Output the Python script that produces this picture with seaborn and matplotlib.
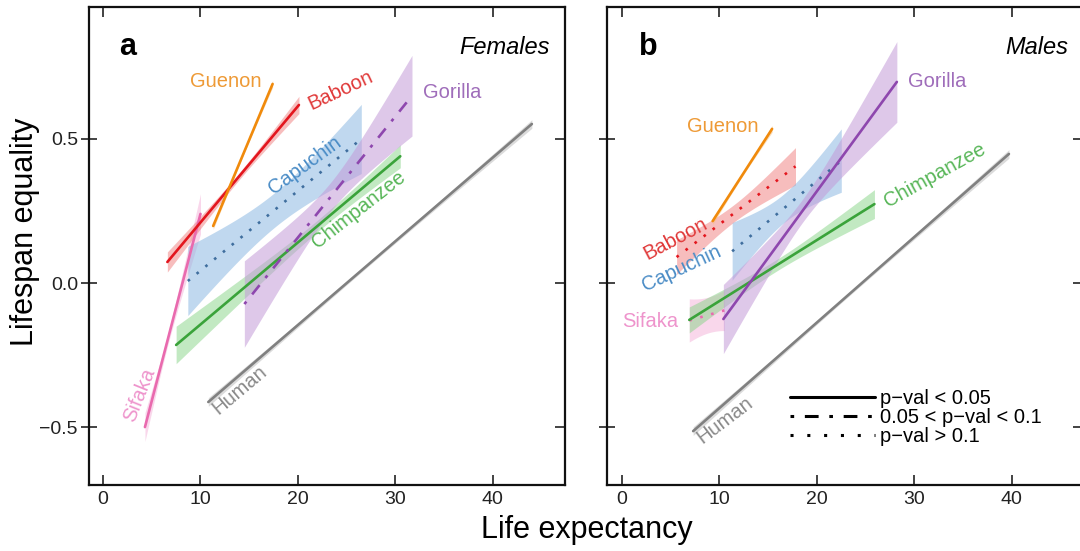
import numpy as np
import pandas as pd
import matplotlib
matplotlib.use("Agg")
import matplotlib.pyplot as plt
import matplotlib.markers as mmarkers
import seaborn as sns
from matplotlib.lines import Line2D

# ---------------- data ----------------
species = ["Sifaka", "Baboon", "Guenon", "Capuchin", "Chimpanzee", "Gorilla", "Human"]

# Females: regression line end points and CI half-widths (start, end, narrowest)
f_x0 = [4.3, 6.6, 11.3, 8.7, 7.5, 14.5, 10.8]
f_x1 = [10.0, 20.1, 17.4, 26.5, 30.5, 31.7, 44.0]
f_y0 = [-0.50, 0.073, 0.198, 0.007, -0.215, -0.073, -0.413]
f_y1 = [0.24, 0.618, 0.691, 0.50, 0.44, 0.65, 0.552]
f_hw0 = [0.05, 0.035, 0.012, 0.12, 0.065, 0.15, 0.015]
f_hw1 = [0.07, 0.03, 0.012, 0.12, 0.04, 0.14, 0.015]
f_hwm = [0.02, 0.012, 0.005, 0.06, 0.02, 0.05, 0.006]
f_sig = ["p<0.05", "p<0.05", "p<0.05", "p>0.1", "p<0.05", "0.05<p<0.1", "p<0.05"]

# Males
m_x0 = [6.9, 5.6, 9.3, 11.3, 6.9, 10.4, 7.3]
m_x1 = [10.5, 17.8, 15.4, 22.5, 25.9, 28.2, 39.7]
m_y0 = [-0.13, 0.09, 0.215, 0.11, -0.128, -0.125, -0.514]
m_y1 = [-0.095, 0.405, 0.535, 0.425, 0.274, 0.698, 0.448]
m_hw0 = [0.075, 0.06, 0.012, 0.10, 0.045, 0.12, 0.015]
m_hw1 = [0.07, 0.065, 0.012, 0.11, 0.05, 0.14, 0.015]
m_hwm = [0.062, 0.03, 0.005, 0.05, 0.02, 0.04, 0.006]
m_sig = ["p>0.1", "p>0.1", "p<0.05", "p>0.1", "p<0.05", "p<0.05", "p<0.05"]

x_ticks = [0, 10, 20, 30, 40]
y_ticks = [-0.5, 0.0, 0.5]
legend_labels = ["p\u2212val < 0.05", "0.05 < p\u2212val < 0.1", "p\u2212val > 0.1"]

# ---------------- styles ----------------
line_colors = {"Sifaka": "#E96AAE", "Baboon": "#E3161E", "Guenon": "#F08A0C",
               "Capuchin": "#3F6E9E", "Chimpanzee": "#3AA33A", "Gorilla": "#8E47AE",
               "Human": "#808080"}
band_colors = {"Sifaka": "#F2A8D4", "Baboon": "#F07C7C", "Guenon": "#F7BE78",
               "Capuchin": "#8DB9E2", "Chimpanzee": "#86D486", "Gorilla": "#C39BD8",
               "Human": "#9A9A9A"}
band_alpha = {"Sifaka": 0.45, "Baboon": 0.5, "Guenon": 0.5, "Capuchin": 0.55,
              "Chimpanzee": 0.5, "Gorilla": 0.55, "Human": 0.35}
label_colors = {"Sifaka": "#EE94CC", "Baboon": "#E03838", "Guenon": "#EE9A36",
                "Capuchin": "#4A8CC6", "Chimpanzee": "#58B658", "Gorilla": "#9F6DBA",
                "Human": "#8A8A8A"}
dash_map = {"p<0.05": "", "0.05<p<0.1": (1.2, 3.5, 4.5, 3.5), "p>0.1": (1, 3.3)}

sns.set_style("white")
plt.rcParams['font.family'] = ['Liberation Sans', 'DejaVu Sans']
plt.rcParams['text.color'] = 'black'
plt.rcParams['axes.labelcolor'] = 'black'

W, H = 1080, 551
fig = plt.figure(figsize=(W / 100, H / 100), dpi=100)
axL = fig.add_axes([89 / W, 66 / H, 476 / W, 478 / H])
axR = fig.add_axes([607 / W, 66 / H, 476 / W, 478 / H])


def half_width(xs, x0, x1, h0, h1, hm):
    a0 = max(h0 ** 2 - hm ** 2, 1e-9)
    a1 = max(h1 ** 2 - hm ** 2, 1e-9)
    r = np.sqrt(a0 / a1)
    c = (x0 + r * x1) / (1 + r)
    s = a0 / (c - x0) ** 2
    return np.sqrt(hm ** 2 + s * (xs - c) ** 2)


def draw_panel(ax, x0, x1, y0, y1, hw0, hw1, hwm, sig):
    rows = []
    for i, sp in enumerate(species):
        xs = np.linspace(x0[i], x1[i], 80)
        ys = y0[i] + (y1[i] - y0[i]) * (xs - x0[i]) / (x1[i] - x0[i])
        hw = half_width(xs, x0[i], x1[i], hw0[i], hw1[i], hwm[i])
        ax.fill_between(xs, ys - hw, ys + hw, color=band_colors[sp],
                        alpha=band_alpha[sp], linewidth=0, zorder=1)
        rows.append({"species": sp, "sig": sig[i], "x": x0[i], "y": y0[i]})
        rows.append({"species": sp, "sig": sig[i], "x": x1[i], "y": y1[i]})
    df = pd.DataFrame(rows)
    sns.lineplot(data=df, x="x", y="y", hue="species", style="sig",
                 units="species", estimator=None, sort=False,
                 palette=line_colors, dashes=dash_map, linewidth=1.9,
                 legend=False, ax=ax, zorder=3)


draw_panel(axL, f_x0, f_x1, f_y0, f_y1, f_hw0, f_hw1, f_hwm, f_sig)
draw_panel(axR, m_x0, m_x1, m_y0, m_y1, m_hw0, m_hw1, m_hwm, m_sig)

for ax, xl in ((axL, (-1.44, 47.4)), (axR, (-1.54, 47.3))):
    ax.set_xlim(*xl)
    ax.set_ylim(-0.701, 0.958)
    ax.set_xticks(x_ticks)
    ax.set_yticks(y_ticks)
    ax.set_xlabel("")
    ax.set_ylabel("")
    ax.tick_params(axis='x', direction='in', length=7.5, width=1.2, top=True,
                   bottom=True, labelsize=14, pad=4, labelcolor='#222222', color='#222222')
    ax.tick_params(axis='y', direction='inout', length=12, width=1.2, left=True,
                   right=True, labelsize=14, pad=2, labelcolor='#222222', color='#222222')
    for s in ax.spines.values():
        s.set_linewidth(1.6)
        s.set_color('#111111')
axR.tick_params(axis='y', labelleft=False)

# ---------------- species labels ----------------
lab_fs = 14.5
f_labels = [("Guenon", 12.6, 0.698, 0, "center"), ("Baboon", 24.4, 0.670, 25, "center"),
            ("Gorilla", 32.8, 0.660, 0, "left"), ("Capuchin", 20.7, 0.41, 36, "center"),
            ("Chimpanzee", 26.2, 0.253, 38, "center"), ("Human", 14.05, -0.372, 40, "center"),
            ("Sifaka", 3.7, -0.389, 68, "center")]
m_labels = [("Guenon", 10.36, 0.542, 0, "center"), ("Baboon", 5.44, 0.153, 28, "center"),
            ("Capuchin", 6.15, 0.052, 25, "center"), ("Sifaka", 2.87, -0.132, 0, "center"),
            ("Gorilla", 29.3, 0.70, 0, "left"), ("Chimpanzee", 32.1, 0.375, 29, "center"),
            ("Human", 10.56, -0.476, 37, "center")]
for ax, labs in ((axL, f_labels), (axR, m_labels)):
    for name, lx, ly, rot, ha in labs:
        ax.text(lx, ly, name, color=label_colors[name], fontsize=lab_fs, rotation=rot,
                ha=ha, va="center", rotation_mode="anchor", zorder=4)

# panel letters and sex titles
axL.text(0.082, 0.916, "a", transform=axL.transAxes, fontsize=22, fontweight="bold",
         ha="center", va="center")
axL.text(0.9685, 0.916, "Females", transform=axL.transAxes, fontsize=17, style="italic",
         ha="right", va="center")
axR.text(0.086, 0.916, "b", transform=axR.transAxes, fontsize=22, fontweight="bold",
         ha="center", va="center")
axR.text(0.968, 0.916, "Males", transform=axR.transAxes, fontsize=17, style="italic",
         ha="right", va="center")

# axis titles
fig.text(587 / W, 1 - 530 / H, "Life expectancy", fontsize=22, ha="center", va="center")
fig.text(25 / W, 1 - 232 / H, "Lifespan equality", fontsize=22, ha="center", va="center",
         rotation=90)

# legend
handles = [Line2D([], [], color="black", linewidth=2.2, linestyle="-"),
           Line2D([], [], color="black", linewidth=2.2, linestyle=(0, (1.2, 3.5, 4.5, 3.5))),
           Line2D([], [], color="black", linewidth=2.2, linestyle=(0, (1, 4.5)))]
fig.legend(handles, legend_labels, loc="upper left",
           bbox_to_anchor=(790 / W, 1 - 389 / H), frameon=False, fontsize=14.5,
           handlelength=4.2, handletextpad=0.25, labelspacing=0.0, borderpad=0,
           borderaxespad=0)

# right-side y ticks point inward only (as in the reference)
for ax in (axL, axR):
    for t in ax.yaxis.get_major_ticks():
        t.tick2line.set_marker(mmarkers.TICKLEFT)
        t.tick2line.set_markersize(7.5)

fig.savefig("out.png", dpi=100)
